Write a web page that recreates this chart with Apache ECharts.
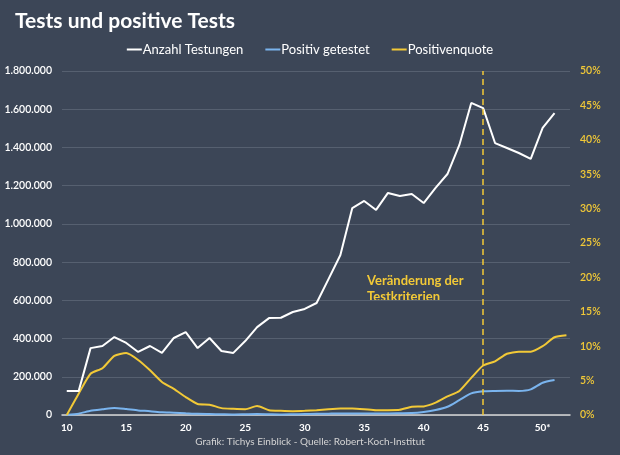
<!DOCTYPE html>
<html>
<head>
<meta charset="utf-8">
<script src="https://cdn.jsdelivr.net/npm/echarts@6/dist/echarts.min.js"></script>
<style>
html,body{margin:0;padding:0;background:#3c4657;}
#c{width:620px;height:455px;}
</style>
</head>
<body>
<div id="c"></div>
<script>
const weeks = [10,11,12,13,14,15,16,17,18,19,20,21,22,23,24,25,26,27,28,29,30,31,32,33,34,35,36,37,38,39,40,41,42,43,44,45,46,47,48,49,50,51,52];
const tests = [125000,125000,350000,361000,408000,377000,330000,361000,325000,403000,434000,350000,403000,335000,325000,387000,460000,507000,509000,539000,555000,586000,711000,837000,1083000,1120000,1073000,1162000,1146000,1156000,1109000,1188000,1261000,1413000,1633000,1606000,1423000,1397000,1371000,1340000,1502000,1580000,null];
const positives = [1000,7000,22000,30000,37000,31000,24000,20000,14000,12000,9000,6000,5000,4000,3000,4000,5000,4000,3000,4000,5000,6000,7000,8000,8000,8000,8000,8000,9000,10000,16000,26000,43000,78000,113000,124000,126000,127000,126000,134000,169000,183000,null];
const quote = [0,3.1,6.0,6.8,8.6,9.0,8.0,6.5,4.8,3.8,2.6,1.6,1.5,1.0,0.9,0.85,1.3,0.7,0.6,0.55,0.6,0.7,0.85,0.95,0.95,0.85,0.7,0.7,0.75,1.2,1.25,1.8,2.7,3.5,5.4,7.2,7.8,8.9,9.2,9.2,10.0,11.3,11.6];
const xTickLabels = [10,15,20,25,30,35,40,45,50];
const changeWeek = 45;

const FONT = 'Lato';
const WHITE = '#ffffff', BLUE = '#7ab4ee', YELLOW = '#f2c937';
const pair = arr => weeks.map((w,i) => [w, arr[i]]);
const de = v => String(v).replace(/\B(?=(\d{3})+(?!\d))/g, '.');

const chart = echarts.init(document.getElementById('c'));
chart.setOption({
  backgroundColor: '#3c4657',
  animation: false,
  textStyle: { fontFamily: FONT },
  title: {
    text: 'Tests und positive Tests',
    left: 10, top: 6,
    textStyle: { color: WHITE, fontSize: 21, fontWeight: 'bold', fontFamily: FONT }
  },
  legend: {
    top: 38, left: 'center',
    icon: 'rect', itemWidth: 15, itemHeight: 2, itemGap: 22,
    textStyle: { color: WHITE, fontSize: 13, fontFamily: FONT, padding: [0,0,0,-4] },
    data: ['Anzahl Testungen', 'Positiv getestet', 'Positivenquote']
  },
  grid: { left: 62, right: 50, top: 71, bottom: 40 },
  xAxis: {
    type: 'value', min: 9.6, max: 52.3,
    axisLine: { lineStyle: { color: '#d8d8d8', width: 1.5 } },
    axisTick: { show: false },
    splitLine: { show: false },
    axisLabel: {
      customValues: xTickLabels,
      color: WHITE, fontSize: 10, fontWeight: 'bold', margin: 8,
      formatter: v => v === 50 ? '50*' : String(v)
    }
  },
  yAxis: [
    {
      type: 'value', min: 0, max: 1800000, interval: 200000,
      axisLine: { show: false }, axisTick: { show: false },
      splitLine: { lineStyle: { color: '#566070', width: 1 } },
      axisLabel: { color: WHITE, fontSize: 10.5, fontWeight: 600, margin: 10, formatter: v => de(v) }
    },
    {
      type: 'value', min: 0, max: 50, interval: 5,
      axisLine: { show: false }, axisTick: { show: false },
      splitLine: { show: false },
      axisLabel: { color: YELLOW, fontSize: 10.5, fontWeight: 600, margin: 10, formatter: '{value}%' }
    }
  ],
  series: [
    {
      name: 'Anzahl Testungen', type: 'line', data: pair(tests),
      showSymbol: false, color: WHITE, lineStyle: { width: 2, color: WHITE }, z: 3
    },
    {
      name: 'Positiv getestet', type: 'line', data: pair(positives),
      showSymbol: false, color: BLUE, lineStyle: { width: 2, color: BLUE }, smooth: 0.2, z: 2
    },
    {
      name: 'Positivenquote', type: 'line', yAxisIndex: 1, data: pair(quote),
      showSymbol: false, color: YELLOW, lineStyle: { width: 2, color: YELLOW }, smooth: 0.2, z: 2,
      markLine: {
        silent: true, symbol: 'none', label: { show: false },
        lineStyle: { color: YELLOW, type: [6, 4], width: 1.5 },
        data: [{ xAxis: changeWeek }]
      }
    }
  ],
  graphic: [
    {
      type: 'text', left: 367, top: 273,
      style: { text: 'Veränderung der\nTestkriterien', fill: YELLOW, font: 'bold 13px ' + FONT, lineHeight: 16 }
    },
    {
      type: 'text', left: 'center', top: 437,
      style: { text: 'Grafik: Tichys Einblick - Quelle: Robert-Koch-Institut', fill: '#d4d4d4', font: '10px ' + FONT }
    }
  ]
});
</script>
</body>
</html>
